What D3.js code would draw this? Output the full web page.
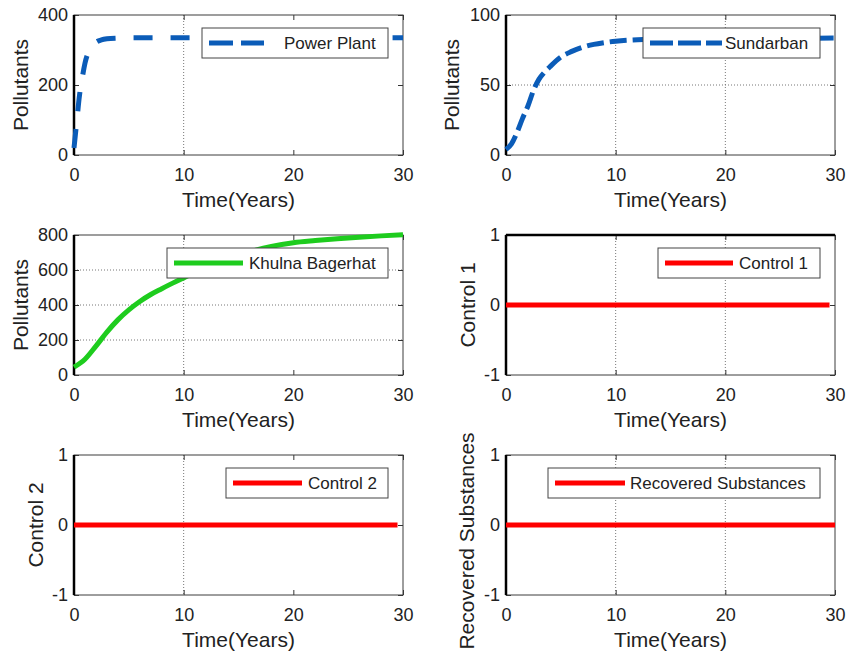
<!DOCTYPE html>
<html>
<head>
<meta charset="utf-8">
<script src="https://cdn.jsdelivr.net/npm/d3@7"></script>
<style>
  body { margin: 0; background: #fff; }
  svg { display: block; }
  text { font-family: "Liberation Sans", Arial, sans-serif; fill: #222; }
</style>
</head>
<body>
<div id="chart"></div>
<script>
// values
const xTicks = [0, 10, 20, 30];

const tPower = [0, 0.25, 0.5, 0.75, 1, 1.5, 2, 2.5, 3, 4, 5, 10, 15, 20, 25, 30];
const powerPlant = [20, 95, 170, 220, 262, 305, 322, 329, 332, 334, 335, 335, 335, 335, 335, 335];

const tSund = [0, 0.5, 1, 1.5, 2, 2.5, 3, 3.5, 4, 5, 6, 7, 8, 9, 10, 12, 15, 20, 25, 30];
const sundarban = [4, 8, 16, 26, 35, 46, 54, 59, 63, 70, 74, 77, 79, 80.3, 81.3, 82.4, 83, 83.3, 83.4, 83.5];

const tKB = [0, 1, 2, 3, 4, 5, 6, 7, 8, 9, 10, 12, 14, 16, 18, 20, 22, 24, 26, 28, 30];
const khulnaBagerhat = [45, 90, 165, 245, 315, 372, 420, 460, 493, 525, 555, 613, 662, 703, 735, 756, 768, 778, 787, 795, 802];

const tControl = [0, 29.5];
const control1 = [0, 0];
const control2 = [0, 0];
const tRecovered = [0, 30];
const recovered = [0, 0];

const yTicksPP = [0, 200, 400];
const yTicksSB = [0, 50, 100];
const yTicksKB = [0, 200, 400, 600, 800];
const yTicksCtl = [-1, 0, 1];

(function() {
  const width = 847, height = 655;
  const pw = 329, ph = 140;

  const svg = d3.select("#chart")
    .append("svg")
    .attr("width", width)
    .attr("height", height);

  const panels = [
    { name: "Power Plant", t: tPower, v: powerPlant, ylabel: "Pollutants", domain: [0, 400], ticks: yTicksPP,
      color: "#0b5cb8", dash: "19,18", legDash: "24,8,23,40", left: 74, top: 15,
      legW: 186, lineLen: 70, textX: 82, gridX: [10], gridY: [], ylOff: 46 },
    { name: "Sundarban", t: tSund, v: sundarban, ylabel: "Pollutants", domain: [0, 100], ticks: yTicksSB,
      color: "#0b5cb8", dash: "17,6", legDash: "23,5", left: 506, top: 15,
      legW: 177, lineLen: 72, textX: 82, gridX: [10, 20], gridY: [50], ylOff: 47 },
    { name: "Khulna Bagerhat", t: tKB, v: khulnaBagerhat, ylabel: "Pollutants", domain: [0, 800], ticks: yTicksKB,
      color: "#1ecc1e", dash: null, legDash: null, left: 74, top: 235,
      legW: 221, lineLen: 69, textX: 82, gridX: [10], gridY: [200, 400, 600], ylOff: 46 },
    { name: "Control 1", t: tControl, v: control1, ylabel: "Control 1", domain: [-1, 1], ticks: yTicksCtl,
      color: "#ff0000", dash: null, legDash: null, left: 506, top: 235,
      legW: 162, lineLen: 68, textX: 81, gridX: [10, 20], gridY: [], ylOff: 31, topThick: true },
    { name: "Control 2", t: tControl, v: control2, ylabel: "Control 2", domain: [-1, 1], ticks: yTicksCtl,
      color: "#ff0000", dash: null, legDash: null, left: 74, top: 455,
      legW: 162, lineLen: 69, textX: 82, gridX: [10], gridY: [], ylOff: 31 },
    { name: "Recovered Substances", t: tRecovered, v: recovered, ylabel: "Recovered Substances", domain: [-1, 1], ticks: yTicksCtl,
      color: "#ff0000", dash: null, legDash: null, left: 506, top: 455,
      legW: 272, lineLen: 70, textX: 82, gridX: [10, 20], gridY: [], ylOff: 32, ylShift: 16 }
  ];

  panels.forEach(p => {
    const g = svg.append("g").attr("transform", `translate(${p.left},${p.top})`);
    const x = d3.scaleLinear().domain([0, 30]).range([0, pw]);
    const y = d3.scaleLinear().domain(p.domain).range([ph, 0]);

    g.append("rect").attr("width", pw).attr("height", ph).attr("fill", "#fff");

    // dotted grid
    g.selectAll(".gx").data(p.gridX).join("line")
      .attr("x1", d => x(d)).attr("x2", d => x(d))
      .attr("y1", 0).attr("y2", ph)
      .attr("stroke", "#777").attr("stroke-width", 1).attr("stroke-dasharray", "1,2");
    g.selectAll(".gy").data(p.gridY).join("line")
      .attr("x1", 0).attr("x2", pw)
      .attr("y1", d => y(d)).attr("y2", d => y(d))
      .attr("stroke", "#777").attr("stroke-width", 1).attr("stroke-dasharray", "1,2");

    // axes with inward ticks
    const ax = g.append("g").attr("transform", `translate(0,${ph})`)
      .call(d3.axisBottom(x).tickValues(xTicks).tickSize(-5).tickPadding(13).tickFormat(d => String(d)));
    const ay = g.append("g")
      .call(d3.axisLeft(y).tickValues(p.ticks).tickSize(-5).tickPadding(6).tickFormat(d => String(d)));
    g.append("g").call(d3.axisTop(x).tickValues(xTicks).tickSize(-5).tickFormat(""));
    g.append("g").attr("transform", `translate(${pw},0)`)
      .call(d3.axisRight(y).tickValues(p.ticks).tickSize(-5).tickFormat(""));
    g.selectAll(".domain").remove();
    g.selectAll(".tick line").attr("stroke", "#333");
    [ax, ay].forEach(a => a.selectAll("text").style("font-size", "18px").attr("fill", "#222"));

    // frame
    g.append("rect").attr("width", pw).attr("height", ph)
      .attr("fill", "none").attr("stroke", "#3c3c3c").attr("stroke-width", 1);
    g.append("line").attr("x1", 0).attr("x2", 0).attr("y1", 0).attr("y2", ph)
      .attr("stroke", "#000").attr("stroke-width", 2.5);
    if (p.topThick) {
      g.append("line").attr("x1", 0).attr("x2", pw).attr("y1", 0).attr("y2", 0)
        .attr("stroke", "#000").attr("stroke-width", 2.5);
    }

    // series
    const pts = p.t.map((t, i) => [t, p.v[i]]);
    g.append("path")
      .datum(pts)
      .attr("d", d3.line().x(d => x(d[0])).y(d => y(d[1])).curve(d3.curveMonotoneX))
      .attr("fill", "none")
      .attr("stroke", p.color)
      .attr("stroke-width", 5)
      .attr("stroke-dasharray", p.dash);

    // legend
    const lg = g.append("g").attr("transform", `translate(${pw - 15 - p.legW},13)`);
    lg.append("rect").attr("width", p.legW).attr("height", 30)
      .attr("fill", "#fff").attr("stroke", "#444").attr("stroke-width", 1);
    lg.append("line").attr("x1", 7).attr("x2", 7 + p.lineLen).attr("y1", 15).attr("y2", 15)
      .attr("stroke", p.color).attr("stroke-width", 5).attr("stroke-dasharray", p.legDash);
    lg.append("text").attr("x", p.textX).attr("y", 21)
      .style("font-size", "17px").text(p.name);

    // axis labels
    g.append("text").attr("x", pw / 2).attr("y", ph + 52)
      .attr("text-anchor", "middle").style("font-size", "21px").text("Time(Years)");
    g.append("text")
      .attr("transform", `translate(${-p.ylOff},${ph / 2 + (p.ylShift || 0)}) rotate(-90)`)
      .attr("text-anchor", "middle").style("font-size", "21px").text(p.ylabel);
  });
})();
</script>
</body>
</html>
